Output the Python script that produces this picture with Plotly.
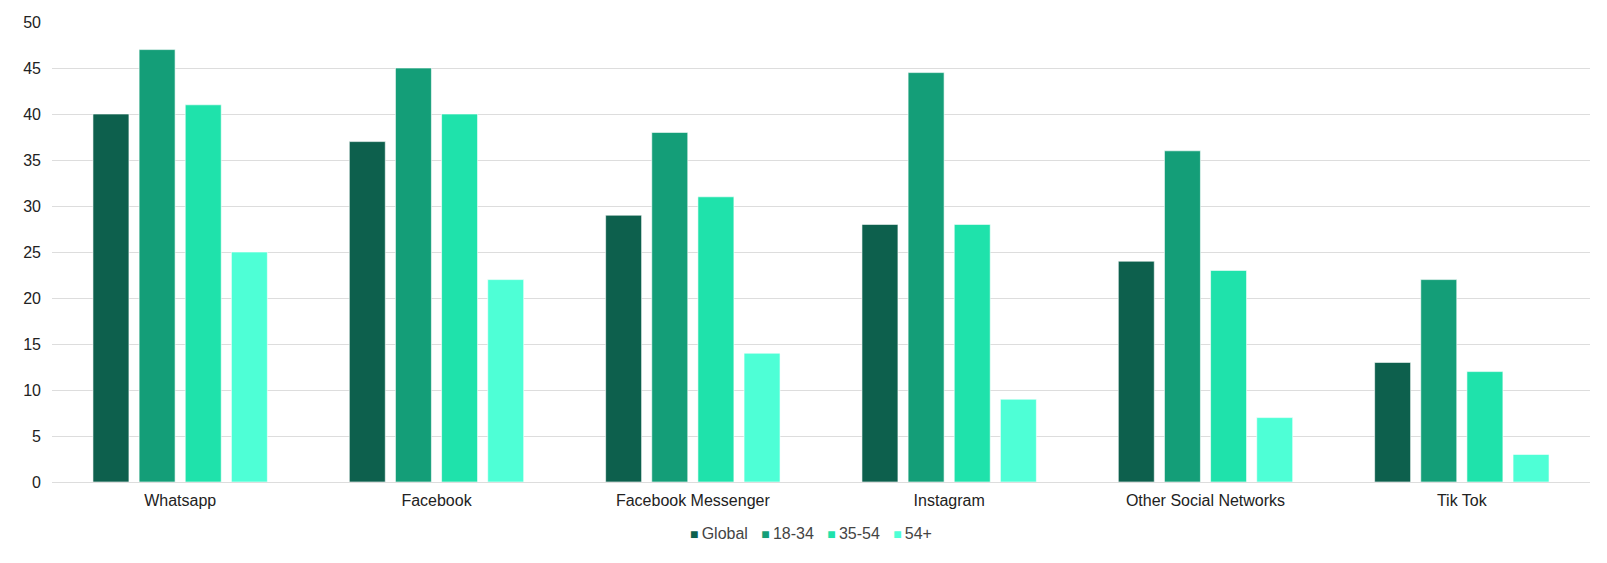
import plotly.graph_objects as go

categories = ["Whatsapp", "Facebook", "Facebook Messenger", "Instagram", "Other Social Networks", "Tik Tok"]
series_names = ["Global", "18-34", "35-54", "54+"]
global_vals = [40, 37, 29, 28, 24, 13]
age_18_34 = [47, 45, 38, 44.5, 36, 22]
age_35_54 = [41, 40, 31, 28, 23, 12]
age_54_plus = [25, 22, 14, 9, 7, 3]
y_ticks = [0, 5, 10, 15, 20, 25, 30, 35, 40, 45, 50]

colors = ["#0d604d", "#149e78", "#1fe2ab", "#4effd6"]
values = [global_vals, age_18_34, age_35_54, age_54_plus]

fig = go.Figure()
for name, vals, c in zip(series_names, values, colors):
    fig.add_trace(go.Bar(
        x=categories, y=vals, name=name, showlegend=False,
        marker=dict(color=c, line=dict(color="rgba(255,255,255,0.6)", width=1)),
    ))

# legend drawn as a line of text with coloured squares
legend_parts = []
for name, c in zip(series_names, colors):
    legend_parts.append(
        f"<span style='color:{c};font-size:14px'>■</span>"
        f"<span style='color:#444444'>\u2009{name}</span>"
    )
legend_text = "\u00a0\u00a0\u00a0".join(legend_parts)

fig.add_annotation(
    text=legend_text, xref="paper", yref="paper", x=0.4935, y=-0.111,
    xanchor="center", yanchor="middle", showarrow=False,
    font=dict(family="Liberation Sans, Arial, sans-serif", size=16, color="#444444"),
)

fig.update_layout(
    width=1607, height=563,
    barmode="group", bargap=0.28, bargroupgap=0.22,
    plot_bgcolor="white", paper_bgcolor="white",
    margin=dict(l=52, r=17, t=22, b=81),
    font=dict(family="Liberation Sans, Arial, sans-serif", size=16, color="#222222"),
    showlegend=False,
    xaxis=dict(showgrid=False, showline=False, ticks="", ticklabelstandoff=7,
               tickfont=dict(size=16, color="#222222")),
    yaxis=dict(range=[0, 50], tickvals=y_ticks, showgrid=True, gridcolor="#dddddd",
               gridwidth=1, zeroline=True, zerolinecolor="#dddddd", zerolinewidth=1,
               ticks="", ticklen=0, ticklabelstandoff=10,
               tickfont=dict(size=16, color="#222222")),
)

fig.write_html(
    "out.html",
    config={"displayModeBar": False},
    post_script="document.body.style.margin='0';document.body.style.overflow='hidden';",
)
